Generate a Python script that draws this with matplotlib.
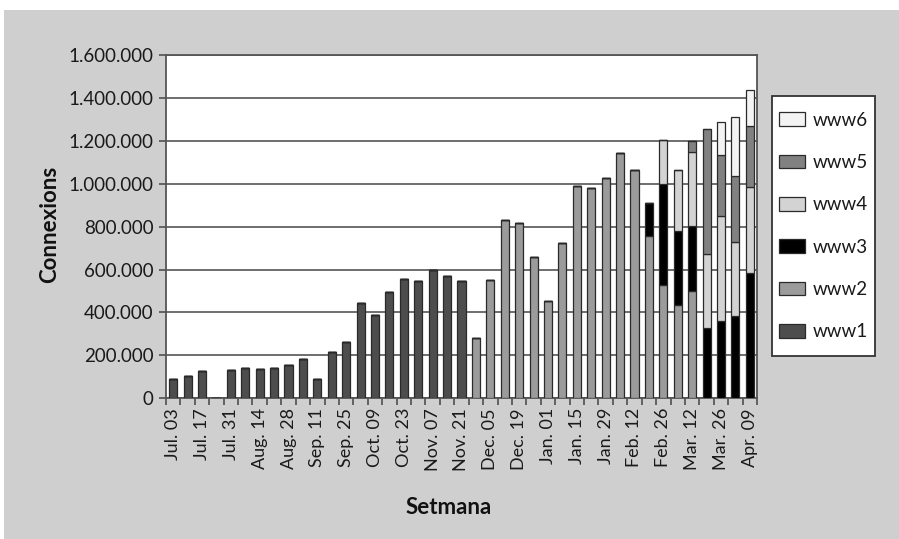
import matplotlib
matplotlib.use("Agg")
import matplotlib.pyplot as plt
from matplotlib.patches import Rectangle
from matplotlib.ticker import FuncFormatter, MultipleLocator

plt.rcParams['font.family'] = ['Lato', 'DejaVu Sans']

# Etiquetes de setmana (una de cada dues setmanes)
etiquetes = ['Jul. 03', 'Jul. 17', 'Jul. 31', 'Aug. 14', 'Aug. 28', 'Sep. 11', 'Sep. 25',
             'Oct. 09', 'Oct. 23', 'Nov. 07', 'Nov. 21', 'Dec. 05', 'Dec. 19', 'Jan. 01',
             'Jan. 15', 'Jan. 29', 'Feb. 12', 'Feb. 26', 'Mar. 12', 'Mar. 26', 'Apr. 09']

# Connexions per servidor i setmana (41 setmanes)
www1 = [91000, 106000, 129000, 0, 131000, 141000, 137000, 143000, 154000, 182000, 89000,
        218000, 262000, 442000, 389000, 495000, 557000, 547000, 600000, 570000, 548000,
        0, 0, 0, 0, 0, 0, 0, 0, 0, 0, 0, 0, 0, 0, 0, 0, 0, 0, 0, 0]
www2 = [0] * 21 + [280000, 552000, 832000, 815000, 659000, 455000, 726000, 990000, 980000,
                   1027000, 1143000, 1065000, 758000, 530000, 434000, 500000, 0, 0, 0, 0]
www3 = [0] * 33 + [152000, 467000, 348000, 305000, 327000, 362000, 384000, 583000]
www4 = [0] * 34 + [207000, 282000, 345000, 346000, 486000, 344000, 400000]
www5 = [0] * 36 + [51000, 583000, 286000, 309000, 288000]
www6 = [0] * 38 + [156000, 272000, 167000]

series = [('www1', www1, '#4d4d4d'), ('www2', www2, '#9b9b9b'), ('www3', www3, '#000000'),
          ('www4', www4, '#d3d3d3'), ('www5', www5, '#818181'), ('www6', www6, '#f3f3f3')]

W, H = 899, 539
fig = plt.figure(figsize=(W / 100, H / 100), dpi=100, facecolor='white')
fig.patches.append(Rectangle((4 / W, 0), 1, 1 - 10 / H, transform=fig.transFigure,
                             facecolor='#cfcfcf', edgecolor='none', zorder=-10))

ax = fig.add_axes([166 / W, 1 - 398.3 / H, 591 / W, 343.3 / H])
ax.set_zorder(2)
ax.set_facecolor('white')

x = list(range(len(www1)))
base = [0] * len(x)
handles = []
for nom, vals, color in series:
    b = ax.bar(x, vals, 0.56, bottom=base, color=color, edgecolor='#2a2a2a',
               linewidth=0.9, zorder=3, label=nom)
    handles.append(b)
    base = [a + v for a, v in zip(base, vals)]

ax.set_xlim(-0.5, len(x) - 0.5)
ax.set_ylim(0, 1600000)
ax.yaxis.set_major_locator(MultipleLocator(200000))
ax.yaxis.set_major_formatter(FuncFormatter(lambda v, p: f'{int(v):,}'.replace(',', '.')))
ax.grid(axis='y', color='#555555', linewidth=1.2, zorder=1)
ax.set_axisbelow(True)

ax.set_xticks(range(0, len(x), 2))
ax.set_xticklabels(etiquetes, rotation=90, fontsize=13, color='#1a1a1a')
ax.set_xticks([i - 0.5 for i in range(len(x) + 1)], minor=True)
ax.tick_params(axis='x', which='major', length=0, pad=7)
ax.tick_params(axis='x', which='minor', length=5, width=1.1, color='#444444')
ax.tick_params(axis='y', length=5, width=1.1, color='#444444', labelsize=13.5,
               labelcolor='#1a1a1a', pad=4)

for s in ax.spines.values():
    s.set_color('#555555')
    s.set_linewidth(1.3)

fig.text(50 / W, 1 - 224 / H, 'Connexions', rotation=90, ha='center', va='center',
         fontsize=16, fontweight='bold', color='#111111')
fig.text(449 / W, 1 - 508 / H, 'Setmana', ha='center', va='center',
         fontsize=16, fontweight='bold', color='#111111')

# Llegenda amb el marc dibuixat a part
fig.patches.append(Rectangle((772 / W, 1 - 356 / H), 103 / W, 260 / H,
                             transform=fig.transFigure, facecolor='white',
                             edgecolor='#333333', linewidth=1.3, zorder=1))
leg = fig.legend(handles[::-1], [s[0] for s in series][::-1], loc='center',
                 bbox_to_anchor=(823.5 / W, 1 - 226 / H), frameon=False, fontsize=13.5,
                 handlelength=1.35, handleheight=0.75, handletextpad=0.4,
                 labelspacing=1.35, borderpad=0)
for t in leg.get_texts():
    t.set_color('#1a1a1a')

fig.savefig('out.png', dpi=100, facecolor=fig.get_facecolor())
